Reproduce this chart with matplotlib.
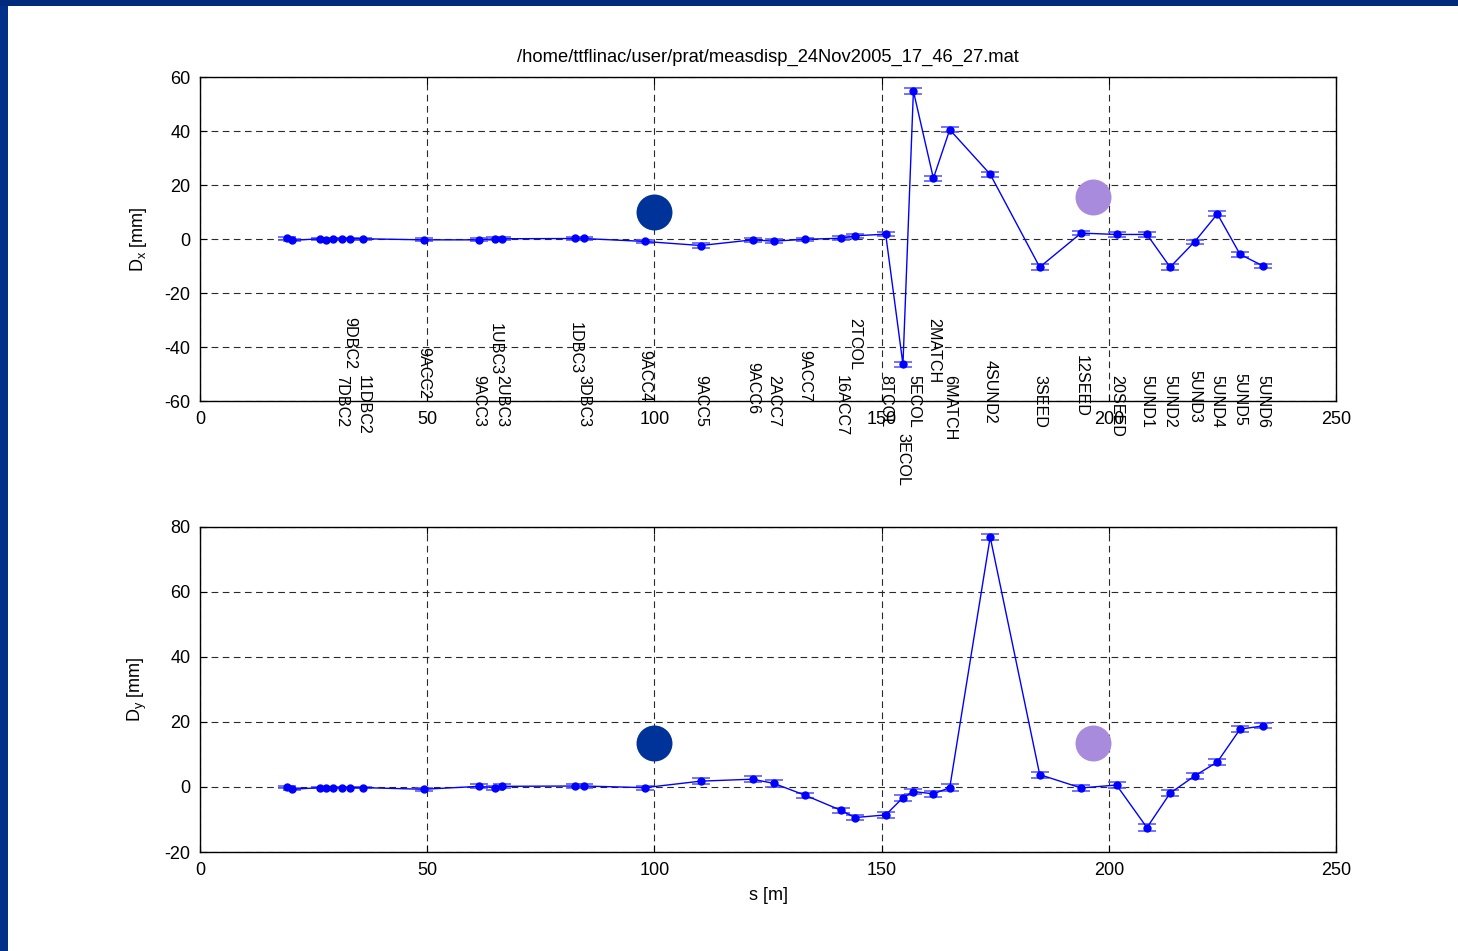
import numpy as np
import matplotlib
matplotlib.use('Agg')
import matplotlib.pyplot as plt
from matplotlib.patches import Rectangle

plt.rcParams['font.family'] = ['Liberation Sans', 'DejaVu Sans']
plt.rcParams['mathtext.fontset'] = 'custom'
plt.rcParams['mathtext.rm'] = 'Liberation Sans'
plt.rcParams['mathtext.it'] = 'Liberation Sans:italic'
plt.rcParams['axes.unicode_minus'] = False

title = '/home/ttflinac/user/prat/measdisp_24Nov2005_17_46_27.mat'

# bpm positions along the linac [m]
s_pos = [19.1, 20.2, 26.4, 27.7, 29.2, 31.2, 33.0, 35.9, 49.2, 61.4, 64.9, 66.5,
         82.5, 84.4, 97.9, 110.2, 121.6, 126.3, 133.1, 141.1, 144.1, 150.9,
         154.7, 157.0, 161.4, 165.0, 173.9, 184.8, 193.9, 201.7, 208.4, 213.5,
         218.9, 223.9, 228.9, 234.0]

# monitor names (first ones unlabeled)
bpm_names = ['', '', '', '', '', '7DBC2', '9DBC2', '11DBC2', '9ACC2', '9ACC3',
             '1UBC3', '2UBC3', '1DBC3', '3DBC3', '9ACC4', '9ACC5', '9ACC6',
             '2ACC7', '9ACC7', '16ACC7', '2TCOL', '8TCOL', '3ECOL', '5ECOL',
             '2MATCH', '6MATCH', '4SUND2', '3SEED', '12SEED', '20SEED', '5UND1',
             '5UND2', '5UND3', '5UND4', '5UND5', '5UND6']

# horizontal dispersion [mm]
disp_x = [0.2, -0.5, 0.1, -0.5, 0.1, 0.1, 0.1, 0.1, -0.3, -0.3, 0.1, 0.1,
          0.2, 0.2, -0.9, -2.4, -0.3, -0.8, -0.1, 0.3, 1.2, 1.8,
          -46.4, 54.8, 22.5, 40.5, 24.0, -10.4, 2.2, 1.7, 1.7, -10.4,
          -1.0, 9.3, -5.7, -10.0]
err_x = [0.4, 0.4, 0.3, 0.3, 0.3, 0.3, 0.3, 0.3, 0.6, 0.6, 0.6, 0.6,
         0.6, 0.6, 0.6, 0.8, 0.7, 0.8, 0.6, 0.7, 0.8, 0.8,
         1.0, 1.1, 1.0, 1.0, 0.9, 1.1, 0.7, 0.8, 0.8, 1.1,
         0.8, 0.9, 0.8, 0.9]

# vertical dispersion [mm]
disp_y = [0.0, -0.7, -0.2, -0.2, -0.2, -0.2, -0.2, -0.2, -0.7, 0.2, -0.2, 0.2,
          0.3, 0.3, -0.2, 1.8, 2.4, 1.1, -2.5, -7.2, -9.4, -8.6,
          -3.3, -1.4, -2.1, -0.2, 76.9, 3.8, -0.3, 0.6, -12.5, -1.9,
          3.4, 7.7, 17.8, 18.8]
err_y = [0.3, 0.3, 0.2, 0.2, 0.2, 0.2, 0.2, 0.2, 0.5, 0.6, 0.6, 0.6,
         0.6, 0.6, 0.6, 1.0, 1.0, 1.0, 0.8, 0.8, 0.8, 1.0,
         0.9, 0.8, 0.9, 1.0, 1.0, 0.9, 0.8, 1.0, 1.1, 0.9,
         0.9, 1.0, 0.9, 0.8]

# where each name label starts (top of rotated text), in Dx units
label_top = [None, None, None, None, None, -50.4, -28.9, -50.4, -40.0, -50.4,
             -31.0, -50.4, -30.7, -50.4, -41.0, -50.4, -45.4, -50.4, -41.1,
             -50.4, -29.3, -50.4, -71.9, -50.4, -29.3, -50.4, -44.8, -50.4,
             -43.0, -50.4, -50.4, -50.4, -48.5, -50.4, -49.6, -50.4]

line_blue = '#0000ff'
cap_blue = '#5a5aff'
dark_blue = '#003399'
lilac = '#a98bdd'

fig = plt.figure(figsize=(14.58, 9.51), dpi=100)
fig.patch.set_facecolor('white')

# slide frame
fig.add_artist(Rectangle((0, 0), 8 / 1458, 1, transform=fig.transFigure,
                         color='#00308a', lw=0))
fig.add_artist(Rectangle((0, 1 - 6 / 951), 1, 6 / 951, transform=fig.transFigure,
                         color='#002a7c', lw=0))

ax1 = fig.add_axes([0.1372, 0.5783, 0.7791, 0.3407])
ax2 = fig.add_axes([0.1372, 0.1041, 0.7791, 0.3418])


def style(ax, ylo, yhi):
    ax.set_xlim(0, 250)
    ax.set_ylim(ylo, yhi)
    ax.set_xticks(np.arange(0, 251, 50))
    ax.set_yticks(np.arange(ylo, yhi + 1, 20))
    ax.grid(True, color='#2a2a2a', linestyle=(0, (6, 4)), linewidth=0.8)
    ax.tick_params(direction='in', labelsize=13, length=5, pad=7,
                   top=True, right=True)
    for sp in ax.spines.values():
        sp.set_linewidth(1.0)


for ax, vals, errs in ((ax1, disp_x, err_x), (ax2, disp_y, err_y)):
    ax.errorbar(s_pos, vals, yerr=errs, fmt='-', color=line_blue, lw=1,
                marker='o', markersize=5, ecolor=cap_blue, elinewidth=1,
                capsize=6.5, capthick=1.2, zorder=3)

style(ax1, -60, 60)
style(ax2, -20, 80)

for name, x, top in zip(bpm_names, s_pos, label_top):
    if name:
        ax1.text(x, top, name, rotation=-90, ha='center', va='top',
                 fontsize=11.6, clip_on=False)

# slide decorations
ax1.scatter([100], [10], s=670, color=dark_blue, lw=0, zorder=5, clip_on=False)
ax1.scatter([196.5], [15.6], s=670, color=lilac, lw=0, zorder=5, clip_on=False)
ax2.scatter([100], [13.5], s=670, color=dark_blue, lw=0, zorder=5, clip_on=False)
ax2.scatter([196.5], [13.5], s=670, color=lilac, lw=0, zorder=5, clip_on=False)

ax1.set_title(title, fontsize=13.2, pad=11)
ax1.set_ylabel(r'D$_\mathrm{x}$ [mm]', fontsize=13)
ax2.set_ylabel(r'D$_\mathrm{y}$ [mm]', fontsize=13)
ax1.yaxis.set_label_coords(-0.045, 0.5)
ax2.yaxis.set_label_coords(-0.045, 0.5)
ax2.set_xlabel('s [m]', fontsize=13, labelpad=6)

fig.savefig('out.png', dpi=100, facecolor='white')
